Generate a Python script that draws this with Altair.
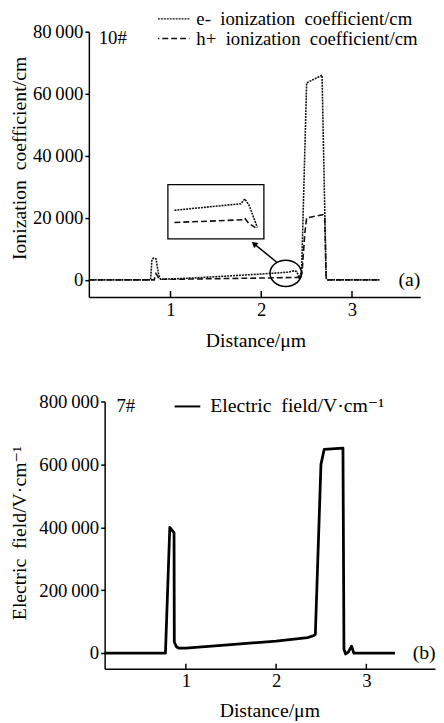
import altair as alt
import pandas as pd

FONT = "Liberation Serif, Times New Roman, Times, DejaVu Serif, serif"
SP = "\u00a0 "  # wide word gap

# ---------------- panel (a): ionization coefficient vs distance ----------------
e_x = [0.10, 0.78, 0.795, 0.81, 0.84, 0.87, 0.89, 1.0, 1.3, 1.6, 2.0, 2.3, 2.36, 2.39, 2.42,
       2.445, 2.50, 2.67, 2.715, 2.735, 3.31]
e_y = [0, 0, 6500, 7000, 6800, 1500, 200, 300, 700, 1200, 1900, 2500, 2900, 2700, 700,
       3000, 63500, 66000, 500, 0, 0]

h_x = [0.10, 0.82, 0.84, 0.87, 0.90, 1.0, 1.5, 2.0, 2.38, 2.41, 2.43, 2.45, 2.48, 2.50,
       2.68, 2.70, 2.715, 2.735, 3.31]
h_y = [0, 0, 2000, 600, 200, 200, 400, 600, 800, 900, 200, 2500, 15000, 20000,
       21000, 20000, 500, 0, 0]

# zoomed inset (drawn inside the box)
ins_e_x = [1.043, 1.775, 1.818, 1.866, 1.957]
ins_e_y = [22450, 24540, 26130, 24030, 16920]
ins_h_x = [1.043, 1.793, 1.818, 1.86, 1.935]
ins_h_y = [18510, 19370, 19900, 18300, 16830]
box_x = [0.971, 2.029]
box_y = [13240, 30700]
ring_x = [2.27]
ring_y = [2130]
arrow_x = [2.174, 1.921]
arrow_y = [5620, 11650]

a_y_ticks = [0, 20000, 40000, 60000, 80000]
x_ticks = [1, 2, 3]

# ---------------- panel (b): electric field vs distance ----------------
E_x = [0.10, 0.774, 0.822, 0.869, 0.872, 0.895, 0.92, 1.0, 1.5, 2.0, 2.35, 2.42, 2.435,
       2.497, 2.533, 2.741, 2.752, 2.77, 2.80, 2.836, 2.861, 3.317]
E_y = [0, 0, 400000, 382000, 35000, 20000, 16000, 16000, 27000, 38000, 49000, 56000, 60000,
       600000, 648000, 652000, 12000, -3000, 3000, 22000, 0, 0]
b_y_ticks = [0, 200000, 400000, 600000, 800000]

LEG_A = ["e-" + SP + "ionization" + SP + "coefficient/cm", "h+" + SP + "ionization" + SP + "coefficient/cm"]
LEG_B = ["Electric" + SP + "field/V\u00b7cm\u207b\u00b9"]

label_expr = "replace(format(datum.value, ','), ',', '\u2009')"


def series(xs, ys):
    return pd.DataFrame({"x": xs, "y": ys, "i": list(range(len(xs)))})


DOT = [2, 1]

# ================= top chart =================
# plot origin shared with bottom chart; top axis sits 16px further left
SH = 16
W1, H1 = 320, 269
xs1 = alt.Scale(domain=[0.1, 3.752], range=[-SH, W1], nice=False, zero=False)
ys1 = alt.Scale(domain=[-5500, 80000], nice=False, zero=False)

xax1 = alt.Axis(values=x_ticks, format="d", tickSize=0, labelPadding=4, grid=False,
                title="Distance/\u03bcm", titleX=169 - SH, titleY=44, titleBaseline="middle",
                titleAlign="center")
yax1 = alt.Axis(values=a_y_ticks, tickSize=4, labelPadding=2, grid=False, labelExpr=label_expr,
                offset=SH,
                title="Ionization" + SP + "coefficient/cm", titleX=-70, titleY=128,
                titleAngle=270, titleBaseline="middle", titleAlign="center")

e_line = alt.Chart(series(e_x, e_y)).mark_line(
    color="#111", strokeWidth=1.6, strokeDash=DOT
).encode(x=alt.X("x:Q", scale=xs1, axis=xax1), y=alt.Y("y:Q", scale=ys1, axis=yax1), order="i:Q")

h_line = alt.Chart(series(h_x, h_y)).mark_line(
    color="#111", strokeWidth=1.6, strokeDash=[6, 3]
).encode(x="x:Q", y="y:Q", order="i:Q")

ins_e = alt.Chart(series(ins_e_x, ins_e_y)).mark_line(
    color="#111", strokeWidth=1.6, strokeDash=DOT
).encode(x="x:Q", y="y:Q", order="i:Q")

ins_h = alt.Chart(series(ins_h_x, ins_h_y)).mark_line(
    color="#111", strokeWidth=1.6, strokeDash=[6, 3]
).encode(x="x:Q", y="y:Q", order="i:Q")

box = alt.Chart(pd.DataFrame({"x": [box_x[0]], "x2": [box_x[1]], "y": [box_y[0]], "y2": [box_y[1]]})).mark_rect(
    fillOpacity=0, stroke="black", strokeWidth=1.3
).encode(x="x:Q", x2="x2:Q", y="y:Q", y2="y2:Q")

ring = alt.Chart(pd.DataFrame({"x": ring_x, "y": ring_y})).mark_point(
    shape="M-1.2,0A1.2,1 0 1,0 1.2,0A1.2,1 0 1,0 -1.2,0Z", size=708, filled=False,
    stroke="black", strokeWidth=1.5, opacity=1
).encode(x="x:Q", y="y:Q")

arrow = alt.Chart(series(arrow_x, arrow_y)).mark_line(color="black", strokeWidth=1.5).encode(
    x="x:Q", y="y:Q", order="i:Q")

arrow_head = alt.Chart(pd.DataFrame({"x": arrow_x[1:], "y": arrow_y[1:]})).mark_point(
    shape="triangle-up", size=45, filled=True, color="black", angle=309, opacity=1
).encode(x="x:Q", y="y:Q")

ticks1 = alt.Chart(pd.DataFrame({"x": x_ticks})).mark_rule(color="black", strokeWidth=1.5).encode(
    x="x:Q", y=alt.value(H1), y2=alt.value(H1 - 6))

ROW1, ROW2 = -13, 7
leg_e_line = alt.Chart(pd.DataFrame({"k": [0]})).mark_rule(
    color="#111", strokeWidth=1.5, strokeDash=DOT
).encode(x=alt.value(70 - SH), x2=alt.value(102 - SH), y=alt.value(ROW1))
leg_h_line = alt.Chart(pd.DataFrame({"k": [0]})).mark_rule(
    color="#111", strokeWidth=1.5, strokeDash=[1.5, 3, 6, 3, 6, 3, 6, 3]
).encode(x=alt.value(70 - SH), x2=alt.value(102 - SH), y=alt.value(ROW2))
leg_e_text = alt.Chart(pd.DataFrame({"t": [LEG_A[0]]})).mark_text(
    align="left", baseline="middle", font=FONT, fontSize=19, color="black"
).encode(x=alt.value(109 - SH), y=alt.value(ROW1), text="t:N")
leg_h_text = alt.Chart(pd.DataFrame({"t": [LEG_A[1]]})).mark_text(
    align="left", baseline="middle", font=FONT, fontSize=19, color="black"
).encode(x=alt.value(109 - SH), y=alt.value(ROW2), text="t:N")
tag_a = alt.Chart(pd.DataFrame({"t": ["10#"]})).mark_text(
    align="left", baseline="middle", font=FONT, fontSize=19, color="black"
).encode(x=alt.value(10 - SH), y=alt.value(6), text="t:N")
lab_a = alt.Chart(pd.DataFrame({"t": ["(a)"]})).mark_text(
    align="center", baseline="middle", font=FONT, fontSize=20, color="black"
).encode(x=alt.value(325 - SH), y=alt.value(252), text="t:N")

top = alt.layer(e_line, h_line, box, ins_e, ins_h, ring, arrow, arrow_head, ticks1,
                leg_e_line, leg_h_line, leg_e_text, leg_h_text, tag_a, lab_a).properties(width=W1, height=H1)

# ================= bottom chart =================
W2, H2 = 335, 271
xs2 = alt.Scale(domain=[0.1, 3.761], nice=False, zero=False)
ys2 = alt.Scale(domain=[-50000, 800000], nice=False, zero=False)

xax2 = alt.Axis(values=x_ticks, format="d", tickSize=0, labelPadding=3, grid=False,
                title="Distance/\u03bcm", titleX=167, titleY=42, titleBaseline="middle",
                titleAlign="center")
yax2 = alt.Axis(values=b_y_ticks, tickSize=4, labelPadding=2, grid=False, labelExpr=label_expr,
                title="Electric" + SP + "field/V\u00b7cm\u207b\u00b9", titleX=-86, titleY=133,
                titleAngle=270, titleBaseline="middle", titleAlign="center")

E_line = alt.Chart(series(E_x, E_y)).mark_line(
    color="black", strokeWidth=2.8, strokeJoin="round"
).encode(x=alt.X("x:Q", scale=xs2, axis=xax2), y=alt.Y("y:Q", scale=ys2, axis=yax2), order="i:Q")

ticks2 = alt.Chart(pd.DataFrame({"x": x_ticks})).mark_rule(color="black", strokeWidth=1.5).encode(
    x="x:Q", y=alt.value(H2), y2=alt.value(H2 - 5))

leg_E_line = alt.Chart(pd.DataFrame({"k": [0]})).mark_rule(color="black", strokeWidth=2).encode(
    x=alt.value(71), x2=alt.value(97), y=alt.value(5))
leg_E_text = alt.Chart(pd.DataFrame({"t": LEG_B})).mark_text(
    align="left", baseline="middle", font=FONT, fontSize=20, color="black"
).encode(x=alt.value(107), y=alt.value(5), text="t:N")
tag_b = alt.Chart(pd.DataFrame({"t": ["7#"]})).mark_text(
    align="left", baseline="middle", font=FONT, fontSize=19, color="black"
).encode(x=alt.value(12), y=alt.value(5), text="t:N")
lab_b = alt.Chart(pd.DataFrame({"t": ["(b)"]})).mark_text(
    align="center", baseline="middle", font=FONT, fontSize=20, color="black"
).encode(x=alt.value(324), y=alt.value(255), text="t:N")

bottom = alt.layer(E_line, ticks2, leg_E_line, leg_E_text, tag_b, lab_b).properties(width=W2, height=H2)

chart = alt.vconcat(top, bottom, spacing=43).properties(
    padding={"left": 2, "top": -3, "right": 0, "bottom": 0}
).configure_view(stroke=None).configure_axis(
    labelFont=FONT, labelFontSize=19, labelColor="black",
    titleFont=FONT, titleFontSize=20, titleColor="black", titleFontWeight="normal",
    domainColor="black", domainWidth=1.5, tickColor="black", tickWidth=1.5,
)

chart.save("out.html", embed_options={"renderer": "svg", "actions": False})
